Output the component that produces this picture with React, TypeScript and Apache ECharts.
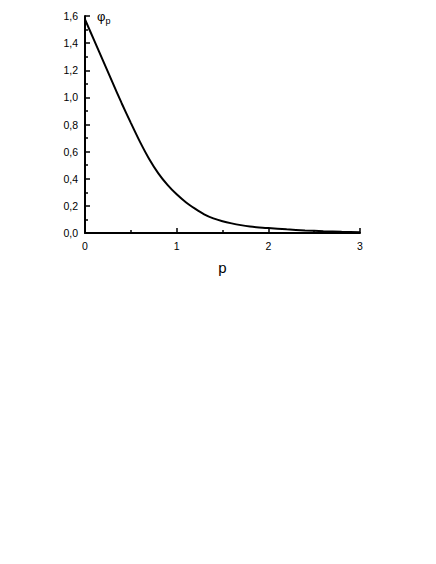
import React, { useEffect, useRef } from "react";
import * as echarts from "echarts";

const pValues = [0, 0.1, 0.2, 0.3, 0.4, 0.5, 0.6, 0.7, 0.8, 0.9, 1.0, 1.1, 1.2, 1.3, 1.4, 1.5, 1.6, 1.7, 1.8, 1.9, 2.0, 2.2, 2.4, 2.6, 2.8, 3.0];
const phiValues = [1.575, 1.42, 1.265, 1.11, 0.957, 0.812, 0.672, 0.546, 0.44, 0.355, 0.285, 0.227, 0.18, 0.138, 0.108, 0.087, 0.071, 0.058, 0.048, 0.041, 0.036, 0.027, 0.019, 0.013, 0.009, 0.006];

const FONT = "'Liberation Sans', Arial, Helvetica, sans-serif";

export default function App() {
  const ref = useRef<HTMLDivElement>(null);
  useEffect(() => {
    if (!ref.current) return;
    const chart = echarts.init(ref.current, undefined, { renderer: "svg" });
    const data = pValues.map((p, i) => [p, phiValues[i]]);
    chart.setOption({
      animation: false,
      backgroundColor: "#ffffff",
      grid: { left: 85, top: 16, right: 76, bottom: 331, containLabel: false },
      xAxis: {
        type: "value",
        min: 0,
        max: 3,
        interval: 1,
        name: "p",
        nameLocation: "middle",
        nameGap: 27,
        nameTextStyle: { fontFamily: FONT, fontSize: 15, color: "#000" },
        axisLine: { show: true, onZero: false, lineStyle: { color: "#000", width: 2 } },
        axisTick: { show: true, inside: true, length: 5, lineStyle: { color: "#000", width: 1.5 } },
        minorTick: { show: true, splitNumber: 2, length: 3, lineStyle: { color: "#000", width: 1.5 } },
        splitLine: { show: false },
        axisLabel: { fontFamily: FONT, fontSize: 10.5, color: "#000", margin: 7 },
      },
      yAxis: {
        type: "value",
        min: 0,
        max: 1.6,
        interval: 0.2,
        axisLine: { show: true, onZero: false, lineStyle: { color: "#000", width: 2 } },
        axisTick: { show: true, inside: true, length: 5, lineStyle: { color: "#000", width: 1.5 } },
        minorTick: { show: true, splitNumber: 2, length: 3, lineStyle: { color: "#000", width: 1.5 } },
        splitLine: { show: false },
        axisLabel: {
          fontFamily: FONT,
          fontSize: 10.5,
          color: "#000",
          margin: 7,
          formatter: (v: number) => v.toFixed(1).replace(".", ","),
        },
      },
      graphic: [
        {
          type: "text",
          left: 97,
          top: 10,
          style: {
            text: "{a|φ}{b|p}",
            rich: {
              a: { fontFamily: FONT, fontSize: 13, fill: "#000" },
              b: { fontFamily: FONT, fontSize: 9, fill: "#000", verticalAlign: "bottom", padding: [8, 0, 0, 0] },
            },
          },
        },
      ],
      series: [
        {
          type: "line",
          data,
          smooth: 0.25,
          showSymbol: false,
          lineStyle: { color: "#000", width: 2 },
        },
      ],
    });
    return () => chart.dispose();
  }, []);
  return (
    <div
      ref={ref}
      style={{ position: "absolute", left: 0, top: 0, width: 436, height: 564 }}
    />
  );
}
